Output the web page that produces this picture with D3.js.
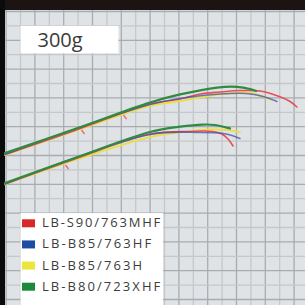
<!DOCTYPE html>
<html>
<head>
<meta charset="utf-8">
<script src="https://cdn.jsdelivr.net/npm/d3@7"></script>
<style>
  html, body { margin: 0; padding: 0; background: #e0e3e5; overflow: hidden; }
  svg { display: block; }
</style>
</head>
<body>
<script>
const W = 305, H = 305

const title = "300g"
const seriesNames = ["LB-S90/763MHF", "LB-B85/763HF", "LB-B85/763H", "LB-B80/723XHF"]
const lineColors = ["#e5505a", "#4a4fa8", "#e8e040", "#2e8c42"]
const legendColors = ["#d9282b", "#1f4ca3", "#ece53b", "#1b8a3c"]

// curves, in grid cells (x right, y up)
const upperRed = [[-1.08, 10.07], [3.78, 11.74], [8.99, 13.58], [11.08, 13.92], [12.47, 14.27], [13.85, 14.41], [15.24, 14.51], [16.63, 14.48], [18.02, 14.08], [18.72, 13.75], [19.2, 13.37]]
const upperBlue = [[-1.08, 10.07], [8.99, 13.54], [11.77, 14.06], [13.85, 14.27], [15.59, 14.31], [16.42, 14.2], [17.19, 13.99], [17.81, 13.75]]
const upperYellow = [[-1.08, 10.03], [3.78, 11.7], [8.99, 13.44], [11.08, 13.78], [13.51, 14.2], [15.73, 14.39], [16.84, 14.08], [17.47, 13.85]]
const upperGreen = [[-1.08, 10.17], [3.78, 11.84], [8.99, 13.68], [11.08, 14.24], [13.65, 14.72], [15.03, 14.77], [15.94, 14.62], [16.35, 14.48]]

const lowerRed = [[-1.08, 8.02], [3.78, 9.76], [8.99, 11.49], [11.77, 11.67], [13.37, 11.67], [13.99, 11.49], [14.41, 11.15], [14.76, 10.66]]
const lowerBlue = [[-1.08, 8.02], [8.99, 11.46], [12.47, 11.6], [14.06, 11.53], [14.69, 11.39], [15.24, 11.18]]
const lowerYellow = [[-1.08, 7.99], [3.78, 9.69], [8.99, 11.28], [11.08, 11.61], [13.37, 11.81], [14.55, 11.74], [15.24, 11.6]]
const lowerGreen = [[-1.08, 8.09], [3.78, 9.83], [8.99, 11.63], [11.08, 12.0], [12.67, 12.15], [13.51, 12.12], [14.34, 11.93], [14.55, 11.88]]

// small red ticks sitting under the straight part
const redMarks = [[4.34, 11.63], [7.26, 12.67], [3.23, 9.2]]

const xTicks = d3.range(-1, 21)
const yTicks = d3.range(0, 21)

const x = d3.scaleLinear().domain([0, 20]).range([20.5, 308.5])
const y = d3.scaleLinear().domain([0, 20]).range([299.5, 11.5])

const svg = d3.select("body").append("svg")
    .attr("width", W)
    .attr("height", H)

svg.append("rect")
    .attr("width", W).attr("height", H)
    .attr("fill", "#e0e3e5")

// graph paper
svg.append("g").selectAll("line")
    .data(xTicks)
  .enter().append("line")
    .attr("x1", d => x(d)).attr("x2", d => x(d))
    .attr("y1", 0).attr("y2", H)
    .attr("stroke", d => Math.abs(d % 2) === 1 ? "#a8acb0" : "#c4c8cb")
    .attr("stroke-width", 1.3)

svg.append("g").selectAll("line")
    .data(yTicks)
  .enter().append("line")
    .attr("y1", d => y(d)).attr("y2", d => y(d))
    .attr("x1", 0).attr("x2", W)
    .attr("stroke", d => d % 2 === 0 ? "#a8acb0" : "#c4c8cb")
    .attr("stroke-width", 1.3)

// dark frame top and left
svg.append("rect").attr("x", 0).attr("y", 0).attr("width", W).attr("height", 10).attr("fill", "#1b1412")
svg.append("rect").attr("x", 0).attr("y", 0).attr("width", 5).attr("height", H).attr("fill", "#0c0b0b")

// title box
svg.append("rect")
    .attr("x", x(0)).attr("y", y(19))
    .attr("width", x(6.8) - x(0)).attr("height", y(17.1) - y(19))
    .attr("fill", "#ffffff")
svg.append("text")
    .attr("x", x(2.75)).attr("y", 47)
    .attr("text-anchor", "middle")
    .style("font-family", "'Open Sans', sans-serif")
    .style("font-size", "20px")
    .attr("fill", "#3a3a3a")
    .text(title)

const line = d3.line()
    .x(d => x(d[0]))
    .y(d => y(d[1]))
    .curve(d3.curveCatmullRom.alpha(0.5))

const curves = [
  { data: upperYellow, c: 2, w: 1.8 },
  { data: lowerYellow, c: 2, w: 1.8 },
  { data: upperRed, c: 0, w: 1.6 },
  { data: lowerRed, c: 0, w: 1.6 },
  { data: upperBlue, c: 1, w: 1.6, o: 0.75 },
  { data: lowerBlue, c: 1, w: 1.6, o: 0.75 },
  { data: upperGreen, c: 3, w: 2.2 },
  { data: lowerGreen, c: 3, w: 2.2 },
]

svg.append("g").selectAll("path")
    .data(curves)
  .enter().append("path")
    .attr("d", d => line(d.data))
    .attr("fill", "none")
    .attr("stroke", d => lineColors[d.c])
    .attr("stroke-width", d => d.w)
    .attr("stroke-opacity", d => d.o || 1)
    .attr("stroke-linecap", "round")

svg.append("g").selectAll("line")
    .data(redMarks)
  .enter().append("line")
    .attr("x1", d => x(d[0]) - 1.5).attr("y1", d => y(d[1]) - 2)
    .attr("x2", d => x(d[0]) + 1.5).attr("y2", d => y(d[1]) + 2)
    .attr("stroke", "#e86a72")
    .attr("stroke-width", 1.4)

// legend
svg.append("rect")
    .attr("x", x(0)).attr("y", y(6))
    .attr("width", x(9.9) - x(0)).attr("height", H - y(6))
    .attr("fill", "#ffffff")

const ly = d3.scalePoint().domain(seriesNames).range([227.3, 290.7])

const items = svg.append("g").selectAll("g")
    .data(seriesNames)
  .enter().append("g")
    .attr("transform", d => "translate(0," + ly(d) + ")")

items.append("rect")
    .attr("x", 22).attr("y", -8)
    .attr("width", 13).attr("height", 8)
    .attr("fill", (d, i) => legendColors[i])

items.append("text")
    .attr("x", 42).attr("y", 0)
    .style("font-family", "'Open Sans', sans-serif")
    .style("font-size", "13px")
    .attr("fill", "#3c3c3c")
    .attr("textLength", d => d.length * 9.1)
    .attr("lengthAdjust", "spacing")
    .text(d => d)
</script>
</body>
</html>
